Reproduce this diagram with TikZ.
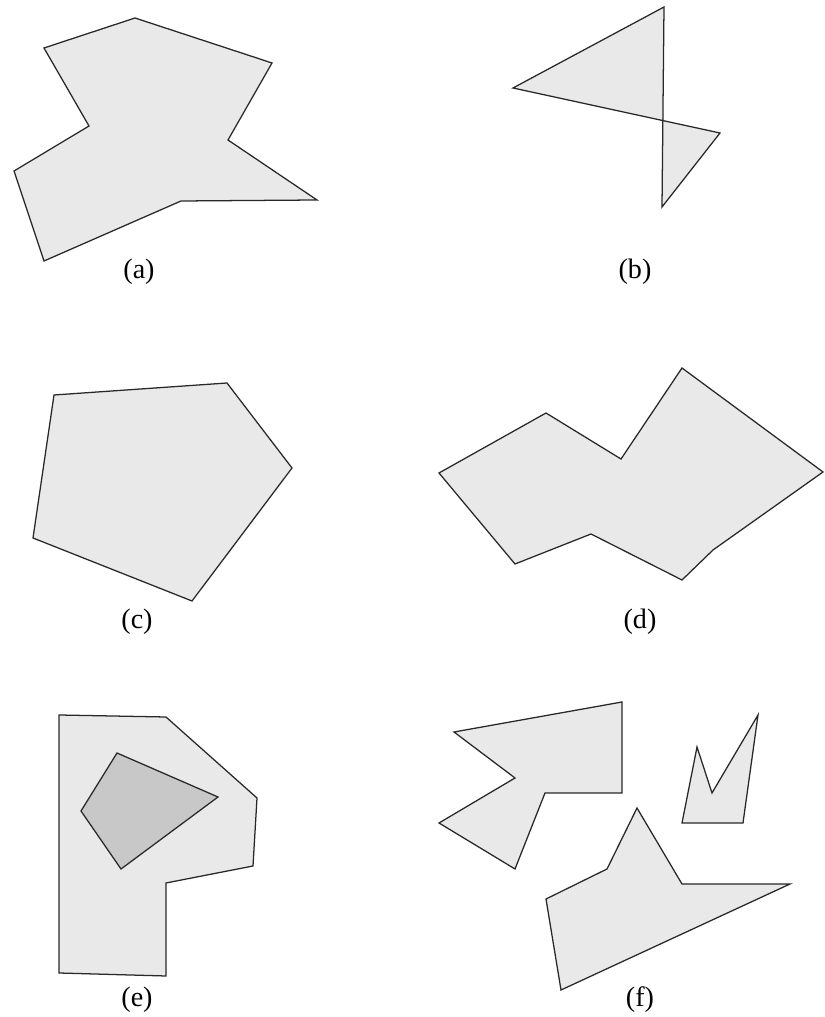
\documentclass[tikz,border=0pt]{standalone}
\usepackage{fontspec}
\setmainfont{Liberation Serif}
\usepackage{tikz}
\definecolor{polyfill}{RGB}{233,233,233}
\definecolor{holefill}{RGB}{200,200,200}
\definecolor{polyline}{RGB}{40,40,40}
\tikzset{poly/.style={draw=polyline,fill=polyfill,line width=.9pt},
 hole/.style={draw=polyline,fill=holefill,line width=.9pt},
 caption/.style={font=\fontsize{20}{24}\selectfont,inner sep=0pt},
 every picture/.style={line join=miter,line cap=butt}}

\begin{document}
\begin{tikzpicture}[]
\useasboundingbox (0,0) rectangle (20.600,25.425);
% (a) simple polygon
\draw[poly] (3.375,24.975) -- (6.800,23.850) -- (5.700,21.925) -- (7.925,20.425)
 -- (4.525,20.400) -- (1.100,18.900) -- (0.350,21.150) -- (2.225,22.275)
 -- (1.100,24.225) -- cycle;
\node[caption] (lbl-a) at (3.475,18.625) {(a)};
% (b) self-intersecting
\draw[poly] (16.600,25.250) -- (12.825,23.225) -- (18.000,22.100) -- (16.550,20.250) -- cycle;
\node[caption] (lbl-b) at (15.875,18.625) {(b)};
% (c) convex
\draw[poly] (1.350,15.550) -- (5.675,15.850) -- (7.300,13.725) -- (4.800,10.400)
 -- (0.825,11.975) -- cycle;
\node[caption] (lbl-c) at (3.425,9.875) {(c)};
% (d)
\draw[poly] (10.975,13.600) -- (13.650,15.100) -- (15.525,13.950) -- (17.050,16.225)
 -- (20.575,13.625) -- (17.825,11.675) -- (17.050,10.925) -- (14.775,12.075)
 -- (12.875,11.325) -- cycle;
\node[caption] (lbl-d) at (16.000,9.875) {(d)};
% (e) polygon with a hole
\draw[poly] (1.475,7.550) -- (4.150,7.500) -- (6.425,5.475) -- (6.325,3.775)
 -- (4.150,3.350) -- (4.150,1.025) -- (1.475,1.100) -- cycle;
\draw[hole] (2.925,6.600) -- (5.450,5.500) -- (3.025,3.700) -- (2.025,5.150) -- cycle;
\node[caption] (lbl-e) at (3.425,0.425) {(e)};
% (f) several pieces
\draw[poly] (11.350,7.125) -- (15.550,7.875) -- (15.550,5.600) -- (13.625,5.600)
 -- (12.875,3.700) -- (10.975,4.850) -- (12.875,5.975) -- cycle;
\draw[poly] (17.425,6.750) -- (17.800,5.600) -- (18.950,7.550) -- (18.575,4.850)
 -- (17.050,4.850) -- cycle;
\draw[poly] (15.925,5.225) -- (17.050,3.325) -- (19.750,3.325) -- (14.025,0.675)
 -- (13.650,2.950) -- (15.175,3.700) -- cycle;
\node[caption] (lbl-f) at (16.000,0.425) {(f)};
\end{tikzpicture}
\end{document}
